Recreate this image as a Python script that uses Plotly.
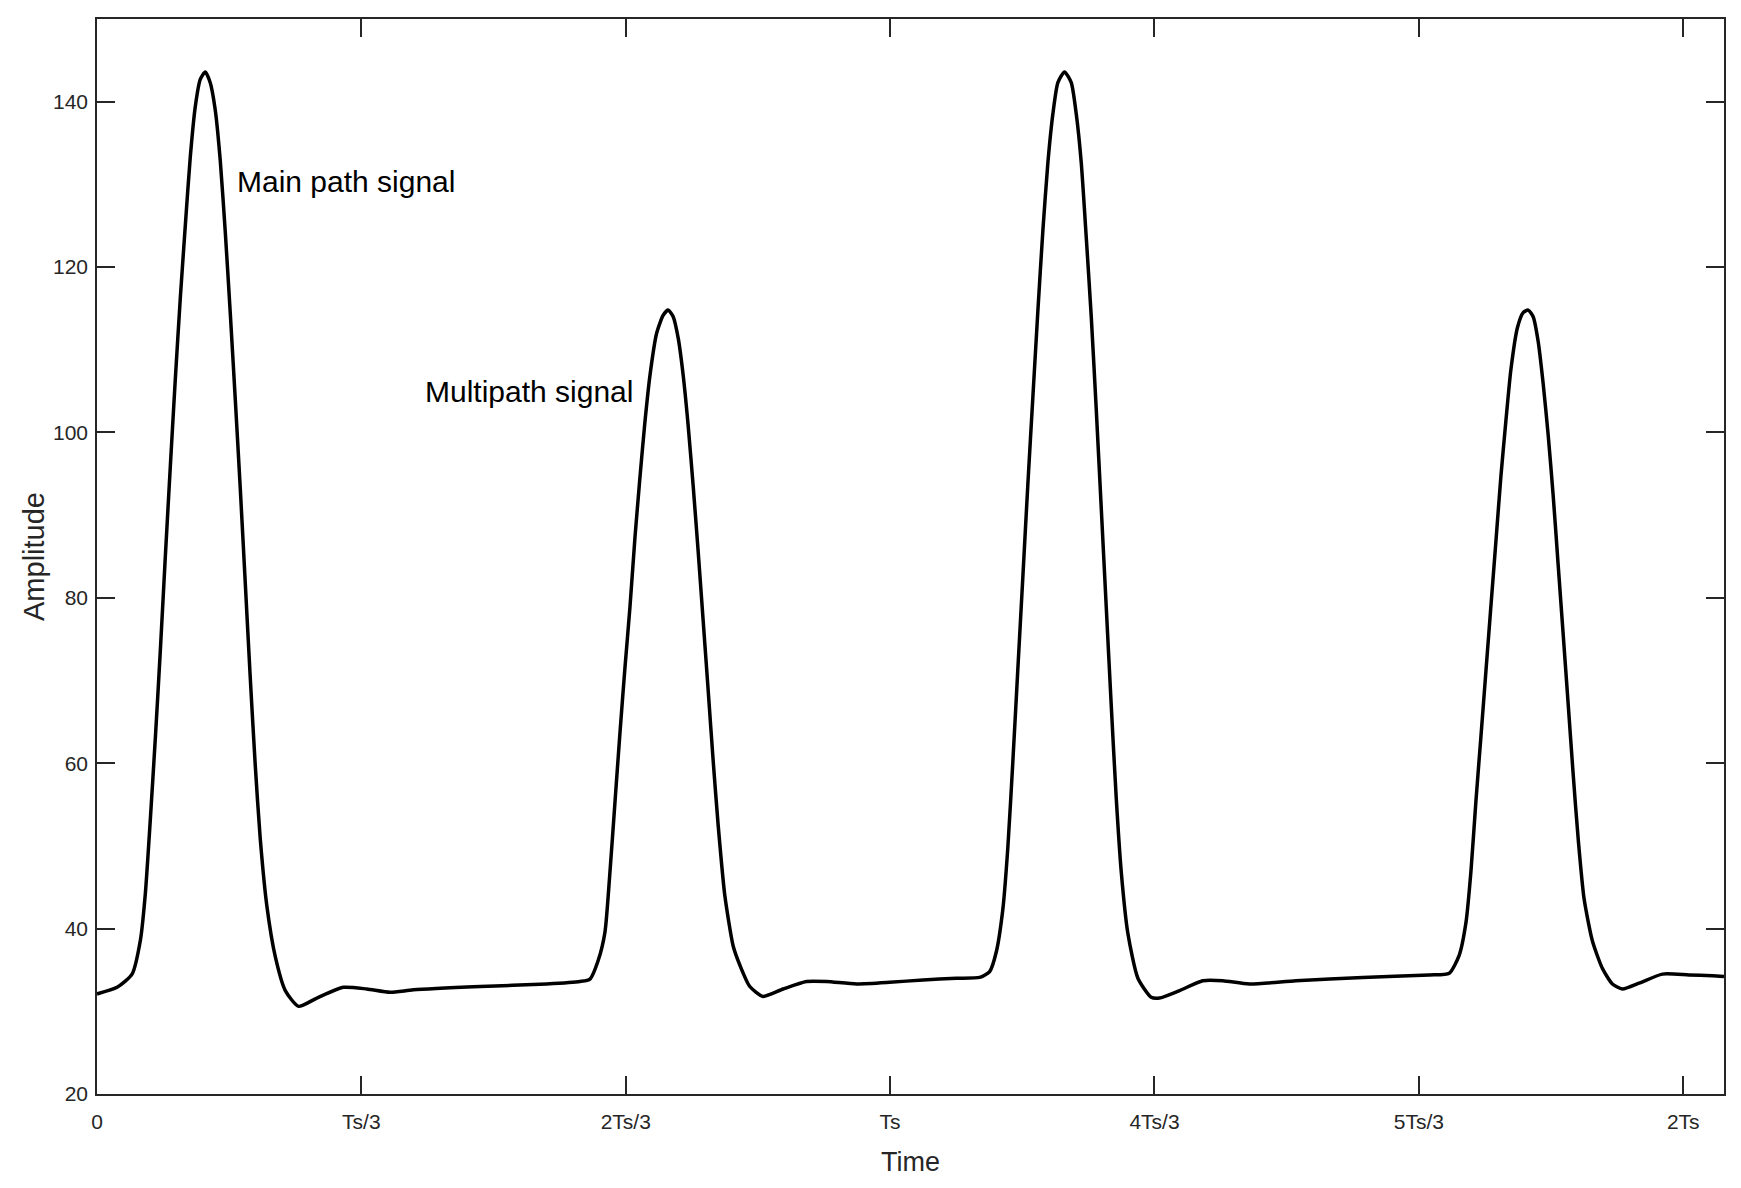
import plotly.graph_objects as go

# ============================
# DATA (time in units of Ts)
# ============================
time_ts = [
    0.0000, 0.0253, 0.0442, 0.0547, 0.0610, 0.0673, 0.0736, 0.0799, 0.0862, 0.0924,
    0.0987, 0.1050, 0.1114, 0.1176, 0.1239, 0.1302, 0.1365, 0.1428, 0.1491, 0.1554,
    0.1617, 0.1680, 0.1744, 0.1806, 0.1869, 0.1932, 0.1995, 0.2058, 0.2142, 0.2248,
    0.2374, 0.2542, 0.2772, 0.3108, 0.3402, 0.3696, 0.3990, 0.4830, 0.5670, 0.6090,
    0.6216, 0.6321, 0.6405, 0.6468, 0.6531, 0.6594, 0.6657, 0.6720, 0.6783, 0.6846,
    0.6909, 0.6972, 0.7056, 0.7140, 0.7202, 0.7265, 0.7328, 0.7391, 0.7454, 0.7517,
    0.7580, 0.7643, 0.7706, 0.7769, 0.7832, 0.7916, 0.8021, 0.8105, 0.8231, 0.8399,
    0.8651, 0.8946, 0.9198, 0.9576, 0.9995, 1.0415, 1.0835, 1.1129, 1.1255, 1.1339,
    1.1422, 1.1485, 1.1548, 1.1611, 1.1674, 1.1737, 1.1800, 1.1863, 1.1926, 1.1989,
    1.2052, 1.2115, 1.2199, 1.2284, 1.2347, 1.2410, 1.2473, 1.2536, 1.2599, 1.2662,
    1.2725, 1.2788, 1.2851, 1.2914, 1.2998, 1.3124, 1.3292, 1.3396, 1.3648, 1.3942,
    1.4194, 1.4530, 1.5118, 1.5958, 1.6798, 1.7050, 1.7176, 1.7260, 1.7323, 1.7386,
    1.7449, 1.7512, 1.7575, 1.7638, 1.7701, 1.7764, 1.7827, 1.7910, 1.7982, 1.8045,
    1.8108, 1.8171, 1.8234, 1.8297, 1.8360, 1.8423, 1.8486, 1.8549, 1.8612, 1.8675,
    1.8750, 1.8855, 1.8980, 1.9107, 1.9233, 1.9443, 1.9737, 2.0073, 2.0367, 2.0514,
]

amplitude = [
    32.1, 32.9, 34.5, 38.6, 44.3, 53.3, 63.1, 73.7, 85.1, 95.8,
    106.4, 116.2, 125.1, 133.3, 139.4, 142.7, 143.6, 142.3, 139.0, 132.9,
    124.3, 114.5, 103.9, 93.3, 81.9, 70.4, 59.8, 50.9, 42.7, 36.6,
    32.5, 30.6, 31.6, 32.9, 32.7, 32.3, 32.6, 33.0, 33.3, 33.6,
    33.9, 36.2, 39.6, 46.9, 55.3, 63.7, 71.6, 78.9, 87.3, 94.6,
    101.3, 106.9, 112.0, 114.2, 114.8, 114.0, 111.4, 106.9, 100.8, 93.5,
    85.6, 77.2, 68.8, 60.3, 52.5, 44.0, 37.9, 35.6, 33.0, 31.8,
    32.7, 33.6, 33.6, 33.3, 33.5, 33.8, 34.0, 34.1, 34.8, 37.2,
    42.4, 49.9, 60.3, 71.5, 82.6, 93.8, 104.3, 114.7, 124.4, 132.6,
    138.5, 142.3, 143.6, 142.3, 138.5, 132.6, 123.6, 114.0, 102.8, 90.9,
    78.9, 67.0, 55.8, 46.9, 39.4, 34.0, 31.7, 31.6, 32.5, 33.7,
    33.7, 33.3, 33.7, 34.1, 34.4, 34.6, 36.8, 40.7, 46.9, 55.4,
    63.2, 71.1, 79.0, 86.8, 94.7, 101.4, 107.6, 112.7, 114.5, 114.8,
    114.0, 111.0, 105.9, 99.7, 92.4, 84.0, 75.6, 67.2, 58.7, 50.9,
    43.6, 38.5, 35.2, 33.3, 32.7, 33.4, 34.5, 34.4, 34.3, 34.2,
]

x_tick_vals = [0, 1/3, 2/3, 1, 4/3, 5/3, 2]
x_tick_text = ["0", "Ts/3", "2Ts/3", "Ts", "4Ts/3", "5Ts/3", "2Ts"]
y_tick_vals = [20, 40, 60, 80, 100, 120, 140]

labels = ["Main path signal", "Multipath signal"]
label_x = [0.1743, 0.4112]
label_y = [130.4, 104.9]

# ============================
# FIGURE
# ============================
FONT = "Liberation Sans, Arial, sans-serif"
AXIS_COLOR = "#262626"

fig = go.Figure()

fig.add_trace(go.Scatter(
    x=time_ts,
    y=amplitude,
    mode="lines",
    line=dict(color="black", width=3.5, shape="spline", smoothing=0.6),
    showlegend=False,
))

for text, lx, ly in zip(labels, label_x, label_y):
    fig.add_annotation(
        x=lx, y=ly, text=text, showarrow=False,
        xanchor="left", yanchor="middle",
        font=dict(family=FONT, size=30, color="black"),
    )

axis_style = dict(
    showline=True, linecolor=AXIS_COLOR, linewidth=1.5,
    mirror="ticks", ticks="inside", ticklen=18, tickwidth=1.5,
    tickcolor=AXIS_COLOR, showgrid=False, zeroline=False,
    tickfont=dict(family=FONT, size=21, color=AXIS_COLOR),
)

fig.update_xaxes(
    range=[0, 2.0514],
    tickvals=x_tick_vals,
    ticktext=x_tick_text,
    ticklabelstandoff=8,
    title=dict(text="Time", standoff=20,
               font=dict(family=FONT, size=27, color=AXIS_COLOR)),
    **axis_style,
)

fig.update_yaxes(
    range=[20, 150],
    tickvals=y_tick_vals,
    ticklabelstandoff=3,
    title=dict(text="Amplitude", standoff=0,
               font=dict(family=FONT, size=29, color=AXIS_COLOR)),
    **axis_style,
)

# page body has an 8px margin, so the figure is a bit smaller and shifted
fig.update_layout(
    width=1733,
    height=1180,
    margin=dict(l=89, r=17, t=9, b=94),
    paper_bgcolor="white",
    plot_bgcolor="white",
)

fig.write_html("out.html")
